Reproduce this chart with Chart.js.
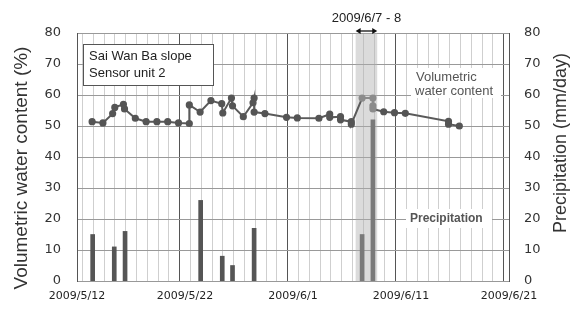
<!DOCTYPE html>
<html lang="en">
<head>
    <meta charset="UTF-8">
    <title>Sai Wan Ba slope - Sensor unit 2</title>
    <style>
        body { margin: 0; padding: 0; background: #ffffff; }
        #wrap { width: 580px; height: 309px; }
    </style>
    <script src="https://cdn.jsdelivr.net/npm/chart.js"></script>
</head>
<body>
    <div id="wrap"><canvas id="chart" width="580" height="309"></canvas></div>

    <script>
        // x axis = days after 2009/5/12
        const dateLabels = ['2009/5/12', '2009/5/22', '2009/6/1', '2009/6/11', '2009/6/21'];

        // volumetric water content (%)
        const wcDays = [1.4, 2.4, 3.3, 3.5, 4.3, 4.4, 5.4, 6.4, 7.4, 8.4, 9.4, 10.4, 10.4,
            11.4, 12.4, 13.4, 13.5, 14.3, 14.4, 15.4, 16.3, 16.4, 16.4, 17.4, 19.4, 20.4,
            22.4, 23.4, 23.4, 24.4, 24.4, 25.4, 25.4, 26.4, 27.4, 27.4, 27.4, 28.4, 29.4,
            30.4, 34.4, 34.4, 35.4];
        const wcValues = [51.4, 51.0, 54.0, 56.0, 57.0, 55.5, 52.5, 51.4, 51.4, 51.4, 51.0, 50.8, 56.8,
            54.5, 58.2, 57.2, 54.2, 59.0, 56.5, 53.0, 57.5, 59.0, 54.5, 54.0, 52.8, 52.6,
            52.5, 53.8, 52.8, 53.0, 52.0, 51.4, 50.6, 59.0, 59.0, 56.5, 55.5, 54.6, 54.3,
            54.1, 51.5, 50.6, 50.0];

        // precipitation (mm/day)
        const rainDays = [1.45, 3.45, 4.45, 11.45, 13.45, 14.4, 16.4, 26.4, 27.4];
        const rainValues = [15, 11, 16, 26, 8, 5, 17, 15, 52];

        // shaded period 2009/6/7 - 8
        const eventStart = 25.8;
        const eventEnd = 27.8;

        const inEvent = d => d >= eventStart && d <= eventEnd;
        const rawX = c => (c && c.raw) ? c.raw.x : 0;

        function verticalText(ctx, text, x, y, font) {
            ctx.save();
            ctx.translate(x, y);
            ctx.rotate(-Math.PI / 2);
            ctx.font = font;
            ctx.textAlign = 'center';
            ctx.textBaseline = 'middle';
            ctx.fillText(text, 0, 0);
            ctx.restore();
        }

        const extras = {
            id: 'extras',
            beforeDatasetsDraw(chart) {
                const ctx = chart.ctx;
                const x = chart.scales.x;
                const area = chart.chartArea;
                const x0 = x.getPixelForValue(eventStart);
                const x1 = x.getPixelForValue(eventEnd);
                ctx.save();
                ctx.fillStyle = 'rgba(175,175,175,0.45)';
                ctx.fillRect(x0, area.top, x1 - x0, area.bottom - area.top);

                // white label backgrounds over the grid
                ctx.fillStyle = '#ffffff';
                ctx.fillRect(411, 68, 90, 30);
                ctx.fillRect(406, 209, 86, 19);
                ctx.fillStyle = '#555';
                ctx.font = '13px "Liberation Sans", Arial, sans-serif';
                ctx.textAlign = 'left';
                ctx.textBaseline = 'middle';
                ctx.fillText('Volumetric', 416, 77);
                ctx.fillText('water content', 415, 91);
                ctx.font = 'bold 12px "Liberation Sans", Arial, sans-serif';
                ctx.fillText('Precipitation', 410, 219);

                // legend box
                ctx.fillStyle = '#ffffff';
                ctx.fillRect(83.5, 44.5, 130, 41);
                ctx.strokeStyle = '#555';
                ctx.lineWidth = 1;
                ctx.strokeRect(83.5, 44.5, 130, 41);
                ctx.fillStyle = '#222';
                ctx.font = '13px "Liberation Sans", Arial, sans-serif';
                ctx.fillText('Sai Wan Ba slope', 89, 56);
                ctx.fillText('Sensor unit 2', 89, 73);
                ctx.restore();
            },
            afterDraw(chart) {
                const ctx = chart.ctx;
                const x = chart.scales.x;
                const x0 = x.getPixelForValue(eventStart);
                const x1 = x.getPixelForValue(eventEnd);
                const y = 31;
                ctx.save();
                ctx.strokeStyle = '#111';
                ctx.fillStyle = '#111';
                ctx.lineWidth = 1.3;
                ctx.beginPath();
                ctx.moveTo(x0 + 2, y);
                ctx.lineTo(x1 - 2, y);
                ctx.stroke();
                ctx.beginPath();
                ctx.moveTo(x0, y); ctx.lineTo(x0 + 5, y - 3); ctx.lineTo(x0 + 5, y + 3); ctx.closePath();
                ctx.moveTo(x1, y); ctx.lineTo(x1 - 5, y - 3); ctx.lineTo(x1 - 5, y + 3); ctx.closePath();
                ctx.fill();
                ctx.font = '13px "Liberation Sans", Arial, sans-serif';
                ctx.textAlign = 'center';
                ctx.textBaseline = 'middle';
                ctx.fillStyle = '#222';
                ctx.fillText('2009/6/7 - 8', (x0 + x1) / 2, 18);

                // axis titles, both read bottom to top
                ctx.fillStyle = '#333';
                verticalText(ctx, 'Volumetric water content (%)', 22, 168, '19px "Liberation Sans", Arial, sans-serif');
                verticalText(ctx, 'Precipitation (mm/day)', 561, 143, '18px "Liberation Sans", Arial, sans-serif');
                ctx.restore();
            }
        };

        new Chart(document.getElementById('chart'), {
            data: {
                datasets: [{
                    type: 'line',
                    label: 'Volumetric water content',
                    data: wcDays.map((d, i) => ({ x: d, y: wcValues[i] })),
                    yAxisID: 'y',
                    borderColor: '#5a5a5a',
                    borderWidth: 2,
                    pointRadius: 2.6,
                    pointBackgroundColor: c => inEvent(rawX(c)) ? '#8c8c8c' : '#555',
                    pointBorderColor: c => inEvent(rawX(c)) ? '#8c8c8c' : '#555',
                    segment: {
                        borderColor: c => inEvent(c.p1.parsed.x) && inEvent(c.p0.parsed.x) ? '#8c8c8c' : undefined
                    },
                    tension: 0,
                    order: 0
                }, {
                    type: 'bar',
                    label: 'Precipitation',
                    data: rainDays.map((d, i) => ({ x: d, y: rainValues[i] })),
                    yAxisID: 'y2',
                    backgroundColor: c => inEvent(rawX(c)) ? '#7a7a7a' : '#555',
                    barThickness: 4,
                    order: 1
                }]
            },
            options: {
                responsive: false,
                animation: false,
                layout: { padding: { top: 33, left: 0, right: 0, bottom: 0 } },
                plugins: {
                    legend: { display: false },
                    tooltip: { enabled: false }
                },
                scales: {
                    x: {
                        type: 'linear',
                        min: 0,
                        max: 40,
                        offset: false,
                        afterFit: s => { s.height = 28; },
                        ticks: {
                            stepSize: 1,
                            autoSkip: false,
                            maxRotation: 0,
                            padding: 9,
                            color: '#222',
                            font: { family: '"DejaVu Sans"', size: 11 },
                            callback: v => v % 10 === 0 ? dateLabels[v / 10] : ''
                        },
                        grid: {
                            drawTicks: false,
                            color: c => (c.tick && c.tick.value % 10 === 0) ? '#555' : '#cfcfcf',
                            lineWidth: 1
                        },
                        border: { display: false }
                    },
                    y: {
                        position: 'left',
                        min: 0,
                        max: 80,
                        afterFit: s => { s.width = 77; },
                        ticks: {
                            stepSize: 10,
                            padding: 16,
                            color: '#333',
                            font: { family: '"DejaVu Sans"', size: 13 }
                        },
                        grid: { drawTicks: false, color: '#999' },
                        border: { color: '#555' }
                    },
                    y2: {
                        position: 'right',
                        min: 0,
                        max: 80,
                        afterFit: s => { s.width = 71; },
                        ticks: {
                            stepSize: 10,
                            padding: 15,
                            color: '#333',
                            font: { family: '"DejaVu Sans"', size: 13 }
                        },
                        grid: { display: false, drawTicks: false },
                        border: { color: '#555' }
                    }
                }
            },
            plugins: [extras]
        });
    </script>
</body>
</html>
